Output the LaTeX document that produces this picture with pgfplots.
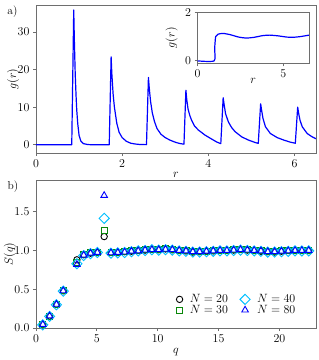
\documentclass[border=0pt]{standalone}
\usepackage{pgfplots}
\pgfplotsset{compat=1.18}
\definecolor{mgreen}{RGB}{10,135,10}
\definecolor{mcyan}{RGB}{0,191,255}
\definecolor{framegray}{RGB}{110,110,110}
\pgfplotsset{
  mystyle/.style={
    scale only axis,
    axis line style={framegray, line width=0.8pt},
    every tick/.style={framegray, line width=0.8pt},
    tick align=outside,
    major tick length=3pt,
    tick pos=left,
    tick label style={font=\fontsize{11.5}{13}\selectfont},
    label style={font=\fontsize{12}{14}\selectfont},
    xlabel style={anchor=center},
    ylabel style={anchor=center},
  },
  s20/.style={only marks, mark=o, mark size=3.2pt, color=black, line width=0.9pt},
  s30/.style={only marks, mark=square, mark size=3.0pt, color=mgreen, mark options={draw=mgreen}, line width=0.9pt},
  s40/.style={only marks, mark=square, mark options={rotate=45, draw=mcyan}, mark size=3.6pt, color=mcyan, line width=0.9pt},
  s80/.style={only marks, mark=triangle, mark size=3.8pt, color=blue, line width=0.9pt},
}
\begin{document}
\begin{tikzpicture}[x=1pt,y=1pt]
\useasboundingbox (0,0) rectangle (319,360);
% ---------------- panel a ----------------
\begin{axis}[mystyle, at={(36pt,207pt)}, anchor=south west,
  width=280pt, height=148pt,
  xmin=0, xmax=6.5, ymin=-2.2, ymax=37.2,
  xtick={0,2,4,6}, ytick={0,10,20,30},
  xlabel={$r$}, ylabel={$g(r)$},
  xlabel style={at={(axis description cs:0.5,-0.149)}},
  ylabel style={at={(axis description cs:-0.082,0.5)}},
]
\addplot[blue, line width=1.2pt, line join=round] coordinates {
(0,0) (0.83,0) (0.876,35.9) (0.89,28) (0.91,19) (0.93,13) (0.946,9.2) (0.97,5.5) (1.0,2.5) (1.04,1.0) (1.1,0.3) (1.2,0.05) (1.3,0) (1.70,0)
(1.744,23.4) (1.76,19) (1.79,13.5) (1.82,10) (1.876,5.7) (1.93,3.3) (2.0,1.9) (2.1,0.9) (2.2,0.4) (2.3,0.2) (2.4,0.08) (2.565,0.02)
(2.61,17.9) (2.63,15) (2.66,11.5) (2.70,8.5) (2.75,6.2) (2.81,4.3) (2.9,2.8) (3.0,1.9) (3.116,1.2) (3.25,0.6) (3.35,0.3) (3.435,0.15)
(3.48,14.5) (3.50,12.0) (3.53,9.5) (3.57,7.8) (3.61,6.6) (3.68,5.0) (3.77,3.9) (3.92,2.6) (4.08,1.5) (4.2,0.7) (4.29,0.3)
(4.345,12.5) (4.37,10.5) (4.40,8.3) (4.465,6.1) (4.54,4.6) (4.62,3.5) (4.775,2.1) (4.93,1.25) (5.086,0.6) (5.16,0.35)
(5.215,10.9) (5.24,9.0) (5.27,7.0) (5.326,4.8) (5.44,3.0) (5.6,1.9) (5.75,1.25) (5.9,0.7) (6.02,0.4)
(6.075,10.0) (6.10,8.2) (6.13,6.5) (6.18,4.8) (6.295,3.0) (6.41,2.1) (6.5,1.6)
};
\end{axis}
% ---------------- inset ----------------
\begin{axis}[mystyle, at={(197.5pt,296.7pt)}, anchor=south west,
  width=111.5pt, height=51pt,
  axis background/.style={fill=white},
  xmin=0, xmax=6.5, ymin=-0.1, ymax=2,
  xtick={0,5}, ytick={0,2},
  xlabel={$r$}, ylabel={$g(r)$},
  xlabel style={at={(axis description cs:0.5,-0.353)}},
  ylabel style={at={(axis description cs:-0.233,0.5)}},
]
\addplot[blue, line width=1.2pt, line join=round, smooth, tension=0.4] coordinates {
(0,0) (0.97,0) (1.0,0.5) (1.06,1.0) (1.2,1.1) (1.5,1.13) (1.9,1.08) (2.4,0.98) (2.85,0.94) (3.3,0.97) (3.8,1.04) (4.2,1.06) (4.7,1.03) (5.2,0.98) (5.55,0.97) (6.0,1.0) (6.5,1.06)
};
\end{axis}
% ---------------- panel b ----------------
\begin{axis}[mystyle, at={(36pt,32pt)}, anchor=south west,
  width=280pt, height=148pt,
  xmin=0, xmax=23, ymin=0, ymax=1.91,
  xtick={0,5,10,15,20}, ytick={0,0.5,1,1.5},
  yticklabel style={/pgf/number format/.cd, fixed, fixed zerofill, precision=1},
  xlabel={$q$}, ylabel={$S(q)$},
  xlabel style={at={(axis description cs:0.5,-0.162)}},
  ylabel style={at={(axis description cs:-0.093,0.5)}},
  legend columns=2,
  legend cell align=left,
  legend style={draw=none, fill=none, at={(axis description cs:0.945,0.06)}, anchor=south east,
    font=\fontsize{12}{13}\selectfont, row sep=-3pt,
    /tikz/every odd column/.append style={column sep=5pt},
    /tikz/every even column/.append style={column sep=10pt}},
]
\addlegendimage{s20}\addlegendentry{$N=20$}
\addlegendimage{s40}\addlegendentry{$N=40$}
\addlegendimage{s30}\addlegendentry{$N=30$}
\addlegendimage{s80}\addlegendentry{$N=80$}
\addplot[s20, forget plot] coordinates {
(0.56,0.045) (1.12,0.155) (1.68,0.305) (2.24,0.48) (3.36,0.88) (3.92,0.945) (4.48,0.965) (5.04,0.975) (5.60,1.18)
(6.16,0.975) (6.72,0.975) (7.28,0.985) (7.84,0.99) (8.40,1.0) (8.96,1.005) (9.52,1.015) (10.08,1.01) (10.64,1.02) (11.20,1.01)
(11.76,1.0) (12.32,0.995) (12.88,0.98) (13.44,0.985) (14.00,0.995) (14.56,0.995) (15.12,1.0) (15.68,1.005) (16.24,1.005) (16.80,1.015)
(17.36,1.005) (17.92,1.0) (18.48,0.99) (19.04,0.985) (19.60,0.98) (20.16,0.99) (20.72,1.0) (21.28,1.0) (21.84,1.005) (22.40,1.0)
};
\addplot[s30, forget plot] coordinates {
(0.56,0.045) (1.12,0.155) (1.68,0.305) (2.24,0.49) (3.36,0.85) (3.92,0.945) (4.48,0.97) (5.04,0.98) (5.60,1.265)
(6.16,0.97) (6.72,0.98) (7.28,0.985) (7.84,0.995) (8.40,1.005) (8.96,1.01) (9.52,1.015) (10.08,1.02) (10.64,1.025) (11.20,1.015)
(11.76,1.005) (12.32,0.995) (12.88,0.99) (13.44,0.99) (14.00,0.99) (14.56,1.0) (15.12,1.005) (15.68,1.0) (16.24,1.01) (16.80,1.015)
(17.36,1.01) (17.92,1.0) (18.48,0.995) (19.04,0.99) (19.60,0.985) (20.16,0.995) (20.72,0.995) (21.28,1.005) (21.84,1.0) (22.40,1.005)
};
\addplot[s40, forget plot] coordinates {
(0.56,0.04) (1.12,0.15) (1.68,0.3) (2.24,0.475) (3.36,0.83) (3.92,0.935) (4.48,0.96) (5.04,0.975) (5.60,1.415)
(6.16,0.965) (6.72,0.97) (7.28,0.975) (7.84,0.985) (8.40,0.995) (8.96,1.0) (9.52,1.01) (10.08,1.005) (10.64,1.01) (11.20,1.005)
(11.76,0.995) (12.32,0.99) (12.88,0.98) (13.44,0.98) (14.00,0.985) (14.56,0.99) (15.12,0.995) (15.68,0.995) (16.24,1.0) (16.80,1.005)
(17.36,1.0) (17.92,0.995) (18.48,0.99) (19.04,0.98) (19.60,0.98) (20.16,0.985) (20.72,0.99) (21.28,0.995) (21.84,0.995) (22.40,0.995)
};
\addplot[s80, forget plot] coordinates {
(0.56,0.045) (1.12,0.155) (1.68,0.305) (2.24,0.48) (3.36,0.82) (3.92,0.94) (4.48,0.965) (5.04,0.975) (5.60,1.71)
(6.16,0.97) (6.72,0.975) (7.28,0.98) (7.84,0.99) (8.40,0.995) (8.96,1.005) (9.52,1.01) (10.08,1.01) (10.64,1.015) (11.20,1.01)
(11.76,1.0) (12.32,0.995) (12.88,0.985) (13.44,0.985) (14.00,0.99) (14.56,0.995) (15.12,1.0) (15.68,1.0) (16.24,1.005) (16.80,1.01)
(17.36,1.005) (17.92,1.0) (18.48,0.995) (19.04,0.985) (19.60,0.985) (20.16,0.99) (20.72,0.995) (21.28,1.0) (21.84,1.0) (22.40,1.0)
};
\end{axis}
\node[font=\fontsize{11.5}{13}\selectfont] at (12.5,348) {a)};
\node[font=\fontsize{11.5}{13}\selectfont] at (13,173.5) {b)};
\end{tikzpicture}
\end{document}
